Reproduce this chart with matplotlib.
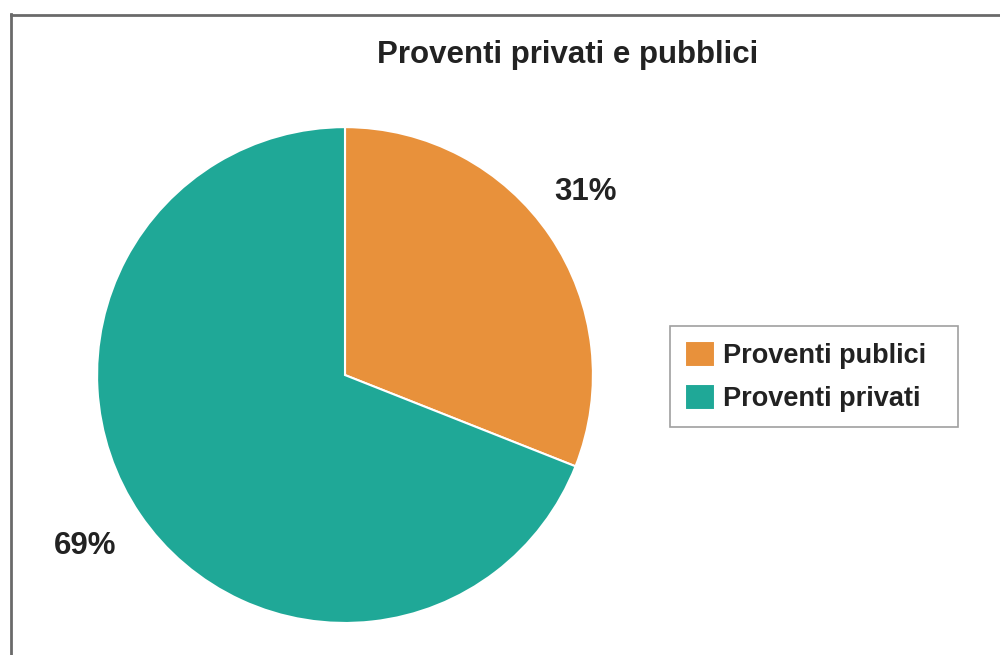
import matplotlib.pyplot as plt
from matplotlib.lines import Line2D

plt.rcParams['font.family'] = ['Liberation Sans', 'DejaVu Sans']

# data
categories = ['Proventi publici', 'Proventi privati']
shares = [31, 69]
colors = ['#E8913B', '#1FA897']
# where each percentage label sits, in pie-radius units
label_xy = [(0.972, 0.74), (-1.048, -0.69)]

fig = plt.figure(figsize=(10, 6.55), dpi=100)
ax = fig.add_axes([0.097, 0.0489, 0.496, 0.757])

wedges, texts, autotexts = ax.pie(
    shares, colors=colors, startangle=90, counterclock=False,
    autopct='%d%%', pctdistance=1.24,
    wedgeprops=dict(edgecolor='white', linewidth=1.5),
    textprops=dict(fontsize=22.5, fontweight='bold', color='#222222'))
ax.set_xlim(-1, 1)
ax.set_ylim(-1, 1)
ax.set_aspect('equal')
for t, xy in zip(autotexts, label_xy):
    t.set_position(xy)
    t.set_clip_on(False)

fig.text(0.568, 1 - 63 / 655, 'Proventi privati e pubblici', ha='center',
         va='baseline', fontsize=22.5, fontweight='bold', color='#222222')

leg = fig.legend(wedges, categories, loc='center left', mode='expand',
                 bbox_to_anchor=(0.67, 0.425, 0.288, 0), frameon=True,
                 fancybox=False, prop=dict(size=19.5, weight='bold'),
                 handlelength=1.1, handleheight=1.1, handletextpad=0.3,
                 labelspacing=0.55, borderpad=0.55, borderaxespad=0)
leg.get_frame().set_edgecolor('#888888')
leg.get_frame().set_linewidth(1.2)
for t in leg.get_texts():
    t.set_color('#222222')

# outer frame lines on top and left
fig.add_artist(Line2D([0.011, 0.011], [0, 1 - 14 / 655], color='#6a6a6a', lw=2))
fig.add_artist(Line2D([0.011, 1], [1 - 15 / 655, 1 - 15 / 655], color='#6a6a6a', lw=2))

fig.savefig('out.png', dpi=100)
